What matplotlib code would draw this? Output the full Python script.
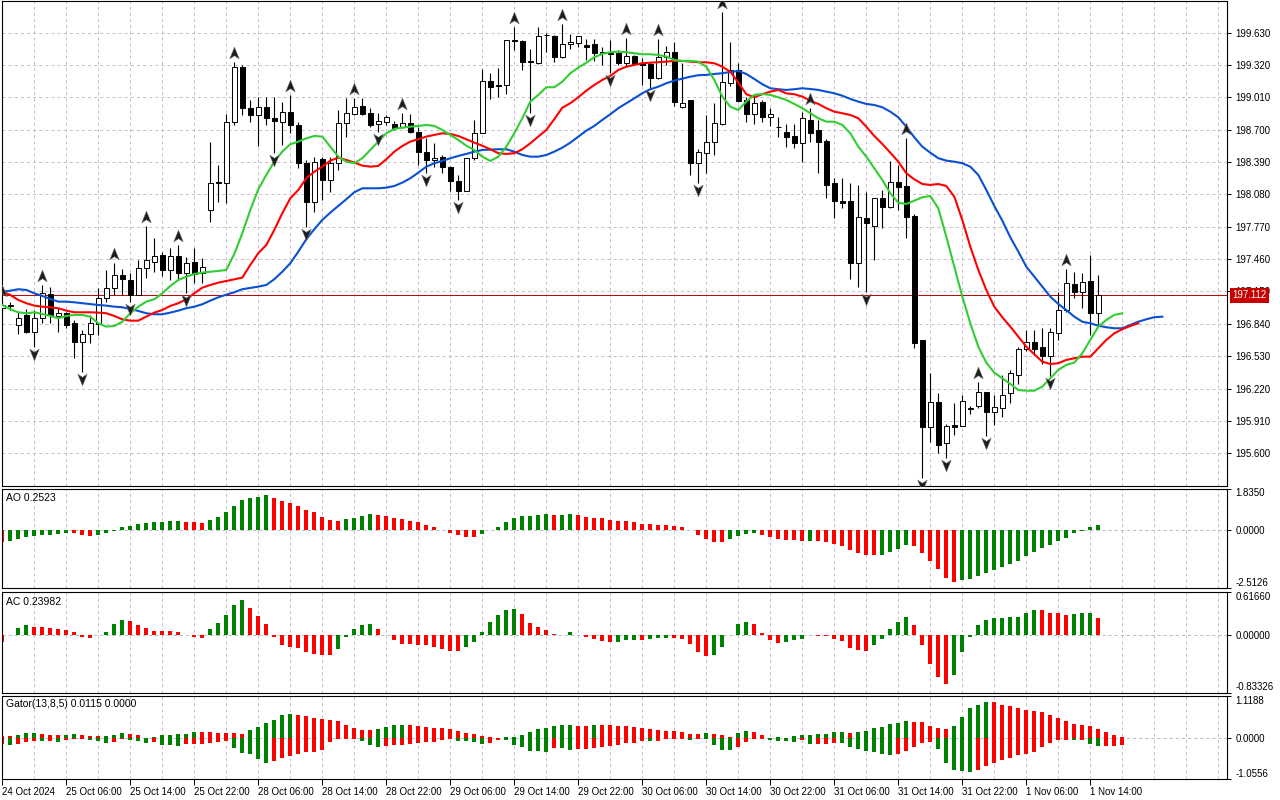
import numpy as np
import matplotlib
matplotlib.use("Agg")
import matplotlib.pyplot as plt
import matplotlib.transforms as mtransforms
from matplotlib.path import Path

plt.rcParams["font.family"] = ["Liberation Sans", "DejaVu Sans"]
plt.rcParams["lines.scale_dashes"] = False

# H1 candles, 24 Oct 22:00 -> 1 Nov 15:00
opens = [196.992, 197.014, 196.829, 196.925, 196.762, 196.896, 197.126, 196.915, 196.944, 196.848,
         196.666, 196.743, 196.838, 197.087, 197.183, 197.308, 197.260, 197.116, 197.375, 197.432,
         197.499, 197.356, 197.490, 197.327, 197.432, 197.327, 197.930, 198.199, 198.189, 198.773,
         199.300, 198.907, 198.840, 198.917, 198.812, 198.773, 198.869, 198.745, 198.381, 198.007,
         198.419, 198.218, 198.381, 198.764, 198.850, 198.927, 198.860, 198.754, 198.773, 198.754,
         198.725, 198.764, 198.678, 198.486, 198.409, 198.438, 198.342, 198.208, 198.112, 198.429,
         198.668, 199.166, 199.128, 199.128, 199.559, 199.549, 199.358, 199.338, 199.607, 199.597,
         199.396, 199.521, 199.530, 199.511, 199.521, 199.444, 199.434, 199.434, 199.338, 199.406,
         199.338, 199.329, 199.195, 199.396, 199.444, 198.917, 198.984, 198.381, 198.476, 198.582,
         198.754, 199.147, 199.271, 198.984, 198.850, 198.965, 198.821, 198.725, 198.678, 198.639,
         198.572, 198.793, 198.697, 198.591, 198.189, 198.017, 198.017, 197.423, 197.854, 197.777,
         198.045, 197.959, 198.199, 198.160, 197.873, 196.685, 195.852, 196.091, 195.698, 195.871,
         195.861, 196.024, 196.053, 196.187, 195.995, 196.034, 196.177, 196.350, 196.599, 196.666,
         196.618, 196.532, 196.752, 196.972, 197.222, 197.145, 197.250, 196.944]
highs = [197.068, 197.052, 196.953, 196.982, 196.972, 197.212, 197.193, 196.992, 196.953, 196.877,
         196.781, 196.925, 197.183, 197.356, 197.423, 197.365, 197.327, 197.451, 197.777, 197.662,
         197.528, 197.566, 197.595, 197.480, 197.566, 197.471, 198.582, 198.361, 198.850, 199.348,
         199.319, 198.984, 199.013, 199.013, 199.013, 198.965, 199.032, 198.773, 198.409, 198.438,
         198.438, 198.438, 198.888, 199.003, 199.003, 199.003, 198.907, 198.860, 198.840, 198.783,
         198.860, 198.850, 198.725, 198.620, 198.572, 198.457, 198.352, 198.266, 198.429, 198.793,
         199.281, 199.243, 199.291, 199.559, 199.683, 199.559, 199.473, 199.683, 199.626, 199.607,
         199.712, 199.616, 199.597, 199.568, 199.568, 199.492, 199.559, 199.463, 199.578, 199.415,
         199.386, 199.348, 199.568, 199.501, 199.540, 199.338, 198.984, 198.515, 198.840, 198.955,
         199.827, 199.540, 199.338, 199.013, 199.013, 198.984, 198.907, 198.821, 198.754, 198.754,
         198.869, 198.907, 198.793, 198.610, 198.237, 198.237, 198.189, 198.170, 198.103, 198.045,
         198.122, 198.400, 198.361, 198.620, 197.892, 196.685, 196.369, 196.178, 195.881, 196.082,
         196.158, 196.053, 196.283, 196.187, 196.158, 196.350, 196.398, 196.618, 196.781, 196.781,
         196.800, 196.800, 197.145, 197.365, 197.337, 197.327, 197.499, 197.308]
lows = [196.953, 196.972, 196.743, 196.752, 196.618, 196.848, 196.848, 196.762, 196.800, 196.513,
        196.379, 196.656, 196.733, 197.049, 197.116, 197.116, 197.049, 197.116, 197.279, 197.337,
        197.298, 197.260, 197.260, 197.135, 197.231, 197.231, 197.815, 198.007, 197.997, 198.745,
        198.840, 198.773, 198.543, 198.745, 198.476, 198.553, 198.668, 198.333, 197.768, 197.911,
        198.026, 198.103, 198.314, 198.630, 198.840, 198.840, 198.725, 198.678, 198.745, 198.697,
        198.716, 198.668, 198.361, 198.285, 198.342, 198.285, 198.112, 198.026, 198.112, 198.409,
        198.668, 198.994, 199.013, 199.042, 199.463, 199.271, 198.860, 199.329, 199.444, 199.348,
        199.386, 199.473, 199.492, 199.367, 199.358, 199.319, 199.243, 199.319, 199.300, 199.319,
        199.128, 199.099, 199.185, 199.319, 198.927, 198.907, 198.266, 198.189, 198.285, 198.457,
        198.745, 199.118, 198.965, 198.773, 198.754, 198.773, 198.735, 198.630, 198.534, 198.524,
        198.390, 198.582, 198.285, 198.045, 197.854, 197.950, 197.269, 197.193, 197.145, 197.451,
        197.758, 197.950, 197.930, 197.662, 196.609, 195.363, 195.708, 195.603, 195.555, 195.775,
        195.861, 195.976, 196.034, 195.766, 195.871, 195.947, 196.082, 196.264, 196.580, 196.541,
        196.455, 196.340, 196.685, 196.953, 197.087, 196.992, 196.733, 196.829]
closes = [197.020, 197.016, 196.896, 196.762, 196.896, 197.135, 196.925, 196.944, 196.829, 196.666,
          196.743, 196.848, 197.087, 197.183, 197.308, 197.270, 197.116, 197.375, 197.451, 197.490,
          197.356, 197.490, 197.327, 197.423, 197.317, 197.384, 198.189, 198.189, 198.773, 199.300,
          198.907, 198.840, 198.917, 198.812, 198.783, 198.869, 198.745, 198.381, 198.007, 198.390,
          198.218, 198.381, 198.764, 198.860, 198.917, 198.850, 198.745, 198.783, 198.821, 198.716,
          198.764, 198.678, 198.486, 198.409, 198.429, 198.342, 198.208, 198.112, 198.429, 198.668,
          199.166, 199.109, 199.118, 199.559, 199.549, 199.348, 199.348, 199.597, 199.602, 199.396,
          199.521, 199.540, 199.597, 199.492, 199.434, 199.434, 199.425, 199.338, 199.406, 199.329,
          199.319, 199.195, 199.396, 199.444, 198.965, 198.955, 198.381, 198.486, 198.582, 198.764,
          199.157, 199.271, 198.975, 198.850, 198.955, 198.821, 198.850, 198.721, 198.630, 198.572,
          198.812, 198.668, 198.582, 198.170, 198.017, 197.997, 197.423, 197.863, 197.806, 198.045,
          197.959, 198.199, 198.151, 197.863, 196.656, 195.852, 196.091, 195.679, 195.861, 195.852,
          196.101, 196.029, 196.187, 195.995, 196.043, 196.158, 196.369, 196.599, 196.666, 196.599,
          196.532, 196.762, 196.972, 197.231, 197.145, 197.241, 196.944, 197.112]

# Alligator lines (already shifted forward: jaw 8, teeth 5, lips 3 bars)
jaw = [197.148, 197.157, 197.171, 197.164, 197.132, 197.107, 197.078, 197.052, 197.052, 197.046,
       197.037, 197.027, 197.020, 197.014, 197.004, 196.998, 196.982, 196.963, 196.941, 196.931,
       196.931, 196.947, 196.966, 196.989, 197.004, 197.027, 197.062, 197.094, 197.119, 197.142,
       197.171, 197.183, 197.196, 197.212, 197.267, 197.339, 197.420, 197.531, 197.650, 197.746,
       197.835, 197.905, 197.969, 198.033, 198.100, 198.138, 198.138, 198.138, 198.144, 198.160,
       198.192, 198.234, 198.288, 198.345, 198.378, 198.400, 198.426, 198.448, 198.467, 198.489,
       198.505, 198.508, 198.512, 198.512, 198.489, 198.457, 198.441, 198.441, 198.457, 198.489,
       198.527, 198.575, 198.633, 198.690, 198.735, 198.793, 198.847, 198.905, 198.952, 199.000,
       199.048, 199.087, 199.111, 199.144, 199.169, 199.188, 199.207, 199.221, 199.224, 199.233,
       199.240, 199.252, 199.262, 199.233, 199.185, 199.135, 199.096, 199.087, 199.080, 199.087,
       199.096, 199.089, 199.080, 199.064, 199.048, 199.025, 198.994, 198.968, 198.946, 198.936,
       198.914, 198.872, 198.818, 198.728, 198.627, 198.537, 198.479, 198.426, 198.403, 198.393,
       198.378, 198.345, 198.266, 198.122, 197.969, 197.828, 197.669, 197.531, 197.387, 197.292,
       197.196, 197.100, 197.030, 196.972, 196.908, 196.860, 196.845, 196.822, 196.807, 196.797,
       196.797, 196.829, 196.860, 196.883, 196.903, 196.908]
teeth = [197.148, 197.116, 197.068, 197.037, 197.014, 197.004, 196.998, 196.989, 196.966, 196.950,
         196.950, 196.950, 196.947, 196.941, 196.915, 196.883, 196.870, 196.870, 196.908, 196.947,
         196.972, 197.011, 197.037, 197.075, 197.132, 197.186, 197.212, 197.234, 197.250, 197.267,
         197.282, 197.404, 197.516, 197.595, 197.739, 197.899, 198.042, 198.122, 198.234, 198.297,
         198.345, 198.403, 198.431, 198.409, 198.384, 198.355, 198.345, 198.352, 198.416, 198.489,
         198.543, 198.585, 198.608, 198.633, 198.649, 198.665, 198.658, 198.639, 198.608, 198.575,
         198.546, 198.512, 198.474, 198.467, 198.474, 198.512, 198.569, 198.633, 198.697, 198.800,
         198.910, 198.953, 199.010, 199.073, 199.128, 199.176, 199.214, 199.271, 199.303, 199.319,
         199.336, 199.341, 199.345, 199.351, 199.358, 199.358, 199.351, 199.345, 199.345, 199.336,
         199.303, 199.255, 199.150, 199.039, 199.010, 199.039, 199.064, 199.080, 199.048, 199.039,
         199.016, 198.977, 198.946, 198.905, 198.872, 198.857, 198.840, 198.809, 198.728, 198.639,
         198.563, 198.479, 198.393, 198.282, 198.224, 198.179, 198.170, 198.179, 198.160, 198.058,
         197.835, 197.579, 197.356, 197.164, 197.004, 196.903, 196.813, 196.717, 196.621, 196.548,
         196.477, 196.455, 196.462, 196.494, 196.510, 196.525, 196.525, 196.606, 196.685, 196.749,
         196.788, 196.819, 196.845]
lips = [197.020, 196.979, 196.950, 196.941, 196.950, 196.934, 196.915, 196.893, 196.915, 196.925,
        196.925, 196.908, 196.845, 196.813, 196.819, 196.860, 196.941, 197.004, 197.052, 197.075,
        197.132, 197.202, 197.260, 197.291, 197.317, 197.330, 197.339, 197.346, 197.356, 197.509,
        197.707, 197.930, 198.129, 198.266, 198.393, 198.489, 198.560, 198.585, 198.617, 198.639,
        198.633, 198.537, 198.441, 198.393, 198.378, 198.426, 198.505, 198.585, 198.665, 198.706,
        198.719, 198.728, 198.735, 198.745, 198.735, 198.697, 198.649, 198.601, 198.546, 198.505,
        198.441, 198.400, 198.441, 198.537, 198.665, 198.809, 198.968, 199.032, 199.106, 199.106,
        199.159, 199.240, 199.294, 199.341, 199.393, 199.425, 199.441, 199.447, 199.441, 199.431,
        199.422, 199.422, 199.415, 199.399, 199.367, 199.358, 199.358, 199.351, 199.303, 199.176,
        199.016, 198.920, 198.888, 198.968, 199.032, 199.042, 199.032, 199.010, 198.984, 198.946,
        198.905, 198.857, 198.809, 198.776, 198.776, 198.745, 198.665, 198.537, 198.441, 198.330,
        198.218, 198.090, 198.000, 197.988, 198.019, 198.052, 198.064, 197.947, 197.675, 197.387,
        197.100, 196.845, 196.621, 196.468, 196.372, 196.318, 196.264, 196.206, 196.199, 196.199,
        196.238, 196.318, 196.398, 196.446, 196.468, 196.558, 196.685, 196.813, 196.877, 196.925,
        196.941]

fractal_up = [0, 5, 14, 18, 22, 29, 36, 44, 50, 64, 70, 78, 82, 90, 101, 113, 122, 133]
fractal_down = [4, 10, 16, 23, 34, 38, 47, 53, 57, 66, 76, 81, 87, 108, 115, 118, 123, 131]

ao = [-0.49, -0.47, -0.37, -0.30, -0.25, -0.21, -0.20, -0.15, -0.12, -0.13,
      -0.21, -0.22, -0.20, -0.10, -0.02, 0.15, 0.21, 0.30, 0.33, 0.35,
      0.39, 0.41, 0.42, 0.37, 0.35, 0.34, 0.47, 0.59, 0.79, 1.08,
      1.35, 1.42, 1.48, 1.53, 1.41, 1.27, 1.19, 1.08, 0.90, 0.79,
      0.59, 0.46, 0.43, 0.52, 0.55, 0.64, 0.73, 0.68, 0.64, 0.55,
      0.50, 0.43, 0.39, 0.24, 0.15, 0.01, -0.12, -0.21, -0.29, -0.30,
      -0.15, 0.03, 0.15, 0.37, 0.55, 0.63, 0.64, 0.68, 0.73, 0.68,
      0.69, 0.73, 0.68, 0.59, 0.56, 0.55, 0.46, 0.42, 0.41, 0.37,
      0.29, 0.28, 0.25, 0.24, 0.19, 0.15, 0.01, -0.21, -0.39, -0.49,
      -0.50, -0.37, -0.25, -0.15, -0.10, -0.21, -0.30, -0.39, -0.42, -0.43,
      -0.46, -0.45, -0.47, -0.50, -0.61, -0.67, -0.84, -0.98, -1.06, -1.07,
      -1.05, -0.95, -0.80, -0.62, -0.68, -0.98, -1.33, -1.69, -2.09, -2.27,
      -2.18, -2.13, -2.01, -1.87, -1.73, -1.60, -1.47, -1.33, -1.11, -0.93,
      -0.76, -0.62, -0.44, -0.31, -0.13, -0.03, 0.16, 0.2523]
ac = [-0.109, -0.005, 0.091, 0.136, 0.118, 0.109, 0.091, 0.081, 0.063, 0.036,
      -0.036, -0.054, -0.009, 0.045, 0.154, 0.208, 0.199, 0.136, 0.091, 0.059,
      0.054, 0.050, 0.045, 0.000, -0.036, -0.041, 0.081, 0.163, 0.281, 0.425,
      0.498, 0.380, 0.272, 0.154, -0.036, -0.145, -0.181, -0.190, -0.253, -0.272,
      -0.290, -0.299, -0.199, -0.036, 0.081, 0.136, 0.154, 0.081, -0.009, -0.081,
      -0.127, -0.131, -0.145, -0.154, -0.172, -0.208, -0.235, -0.240, -0.181, -0.100,
      0.036, 0.181, 0.281, 0.353, 0.371, 0.299, 0.163, 0.109, 0.063, 0.005,
      0.002, 0.036, -0.003, -0.036, -0.063, -0.091, -0.109, -0.104, -0.081, -0.072,
      -0.081, -0.063, -0.045, -0.041, -0.054, -0.059, -0.127, -0.253, -0.308, -0.299,
      -0.181, -0.005, 0.154, 0.181, 0.154, 0.018, -0.081, -0.118, -0.109, -0.081,
      -0.063, -0.009, -0.014, -0.018, -0.063, -0.091, -0.190, -0.226, -0.231, -0.145,
      -0.068, 0.081, 0.190, 0.262, 0.145, -0.154, -0.416, -0.606, -0.706, -0.579,
      -0.253, -0.036, 0.136, 0.217, 0.235, 0.244, 0.249, 0.262, 0.317, 0.362,
      0.357, 0.317, 0.308, 0.290, 0.299, 0.308, 0.312, 0.23982]
gator_up = [0.070, 0.053, 0.096, 0.132, 0.140, 0.114, 0.088, 0.087, 0.092, 0.123,
            0.088, 0.061, 0.060, 0.066, 0.096, 0.140, 0.114, 0.088, 0.018, 0.044,
            0.088, 0.096, 0.105, 0.110, 0.175, 0.167, 0.162, 0.140, 0.136, 0.132,
            0.127, 0.210, 0.298, 0.395, 0.491, 0.605, 0.631, 0.605, 0.579, 0.535,
            0.509, 0.491, 0.447, 0.351, 0.263, 0.219, 0.215, 0.237, 0.307, 0.351,
            0.355, 0.346, 0.324, 0.307, 0.281, 0.263, 0.237, 0.193, 0.149, 0.123,
            0.061, 0.044, 0.018, 0.035, 0.039, 0.096, 0.175, 0.237, 0.281, 0.324,
            0.351, 0.355, 0.333, 0.329, 0.351, 0.346, 0.342, 0.324, 0.320, 0.289,
            0.263, 0.237, 0.210, 0.193, 0.189, 0.167, 0.123, 0.118, 0.140, 0.114,
            0.079, 0.044, 0.132, 0.184, 0.180, 0.079, 0.009, 0.026, 0.018, 0.061,
            0.079, 0.083, 0.114, 0.123, 0.158, 0.162, 0.132, 0.158, 0.193, 0.263,
            0.289, 0.368, 0.395, 0.465, 0.439, 0.417, 0.324, 0.263, 0.237, 0.324,
            0.570, 0.781, 0.877, 0.943, 0.938, 0.877, 0.833, 0.781, 0.754, 0.728,
            0.693, 0.614, 0.544, 0.465, 0.386, 0.342, 0.333, 0.254, 0.158, 0.088,
            0.026, 0.0115, 0.005]
gator_down = [-0.132, -0.175, -0.140, -0.088, -0.070, -0.075, -0.070, -0.088, -0.044, -0.018,
              -0.009, -0.044, -0.070, -0.114, -0.088, -0.026, -0.044, -0.070, -0.114, -0.088,
              -0.158, -0.175, -0.202, -0.140, -0.136, -0.132, -0.114, -0.088, -0.079, -0.246,
              -0.377, -0.403, -0.544, -0.631, -0.588, -0.500, -0.456, -0.403, -0.351, -0.345,
              -0.289, -0.088, -0.004, -0.003, -0.003, -0.070, -0.175, -0.219, -0.202, -0.175,
              -0.158, -0.140, -0.114, -0.088, -0.083, -0.044, -0.026, -0.070, -0.075, -0.096,
              -0.140, -0.114, -0.044, -0.053, -0.175, -0.219, -0.333, -0.338, -0.342, -0.246,
              -0.254, -0.307, -0.281, -0.263, -0.246, -0.228, -0.202, -0.167, -0.114, -0.110,
              -0.070, -0.075, -0.066, -0.004, -0.003, -0.003, -0.044, -0.009, -0.026, -0.175,
              -0.307, -0.311, -0.219, -0.088, -0.004, -0.003, -0.044, -0.070, -0.075, -0.088,
              -0.044, -0.140, -0.136, -0.132, -0.114, -0.123, -0.210, -0.281, -0.316, -0.360,
              -0.412, -0.439, -0.412, -0.316, -0.210, -0.123, -0.105, -0.281, -0.640, -0.824,
              -0.859, -0.877, -0.824, -0.710, -0.649, -0.570, -0.509, -0.430, -0.417, -0.342,
              -0.228, -0.123, -0.035, -0.031, -0.053, -0.035, -0.149, -0.202, -0.197, -0.193,
              -0.175]

price_ticks = [199.630, 199.320, 199.010, 198.700, 198.390, 198.080, 197.770,
               197.460, 197.150, 196.840, 196.530, 196.220, 195.910, 195.600]
time_labels = ["24 Oct 2024", "25 Oct 06:00", "25 Oct 14:00", "25 Oct 22:00", "28 Oct 06:00",
               "28 Oct 14:00", "28 Oct 22:00", "29 Oct 06:00", "29 Oct 14:00", "29 Oct 22:00",
               "30 Oct 06:00", "30 Oct 14:00", "30 Oct 22:00", "31 Oct 06:00", "31 Oct 14:00",
               "31 Oct 22:00", "1 Nov 06:00", "1 Nov 14:00"]
ao_scale = [-2.5126, 0.0, 1.8350]
ac_scale = [-0.83326, 0.0, 0.61660]
gator_scale = [-1.0556, 0.0, 1.1188]

GREEN, RED = "#008000", "#ff0000"
GRID = dict(color="#c4b0c4", lw=0.6, ls=(0, (2.2, 2.2)), zorder=0)
ZERO = dict(color="#9fb4b4", lw=0.6, ls=(0, (2.2, 2.2)), zorder=0)
FS = 7

W, H = 1280, 800
fig = plt.figure(figsize=(W / 100, H / 100), dpi=100)


def pane(top, bottom, left=2, right=1227):
    return fig.add_axes([left / W, 1 - bottom / H, (right - left) / W, (bottom - top) / H])


main = pane(1, 485.5)
ao_ax = pane(488.5, 588)
ac_ax = pane(592, 692.5)
gt_ax = pane(695.5, 779)
n_bars = len(closes)
xlim = ((2 - 2.3) / 8, (1227 - 2.3) / 8)

for ax in (main, ao_ax, ac_ax, gt_ax):
    ax.set_xlim(*xlim)
    for s in ax.spines.values():
        s.set_linewidth(0.8)
    for gx in np.arange(0, xlim[1], 4):
        ax.axvline(gx, **GRID)
    ax.yaxis.tick_right()
    ax.tick_params(axis="y", length=3, width=0.7, pad=3, labelsize=FS)
    ax.set_xticks([])

# ---- price pane ----
x = np.arange(n_bars)
o, h, l, c = (np.array(v) for v in (opens, highs, lows, closes))
main.set_ylim(195.291, 199.932)
for p in price_ticks:
    main.axhline(p, **GRID)
main.set_yticks(price_ticks)
main.set_yticklabels([f"{p:.3f}" for p in price_ticks])

main.vlines(x, l, h, color="black", lw=0.8, zorder=3)
bull = c >= o
main.bar(x, np.maximum(np.abs(c - o), 0.002), bottom=np.minimum(o, c), width=0.62,
         color=np.where(bull, "white", "black"), edgecolor="black", lw=0.7, zorder=3)

main.plot(np.arange(len(jaw)), jaw, color="#0a50d2", lw=1.5, zorder=4)
main.plot(np.arange(len(teeth)), teeth, color="#ff0000", lw=1.5, zorder=4)
main.plot(np.arange(len(lips)), lips, color="#32cd32", lw=1.5, zorder=4)

arrow = Path([(0, 1), (0.75, -0.85), (0, -0.35), (-0.75, -0.85), (0, 1)],
             [Path.MOVETO, Path.LINETO, Path.LINETO, Path.LINETO, Path.CLOSEPOLY])
arrow_dn = Path(arrow.vertices * [1, -1], arrow.codes)
main.plot(fractal_up, h[fractal_up] + 0.088, ls="none", marker=arrow, ms=9,
          mfc="#1c1c1c", mec="#6a6a6a", mew=0.4, zorder=5)
main.plot(fractal_down, l[fractal_down] - 0.07, ls="none", marker=arrow_dn, ms=9,
          mfc="#1c1c1c", mec="#6a6a6a", mew=0.4, zorder=5)

main.axhline(c[-1], color="#c00000", lw=0.7, zorder=2)
trans = mtransforms.blended_transform_factory(main.transAxes, main.transData)
main.text(1.0, c[-1], f"{c[-1]:.3f}", transform=mtransforms.offset_copy(trans, fig=fig, x=5, units="dots"),
          ha="left", va="center", fontsize=FS, color="white", zorder=10, clip_on=False,
          bbox=dict(boxstyle="square,pad=0.25", fc="#c80000", ec="none"))


# ---- oscillator panes ----
def rising(v):
    return np.r_[False, np.diff(np.asarray(v)) > 0]


def osc_axis(ax, scale, fmt, title):
    ax.set_ylim(scale[0], scale[-1])
    ax.axhline(0, **ZERO)
    ax.set_yticks(scale)
    labels = ax.set_yticklabels([fmt.format(v) for v in scale])
    labels[0].set_verticalalignment("bottom")
    labels[-1].set_verticalalignment("top")
    ax.text(4 / 1225, 0.955, title, transform=ax.transAxes, ha="left", va="top", fontsize=FS + 0.5)


osc_axis(ao_ax, ao_scale, "{:.4f}", "AO 0.2523")
ao_ax.bar(np.arange(len(ao)), ao, width=0.5, color=np.where(rising(ao), GREEN, RED), zorder=2)

osc_axis(ac_ax, ac_scale, "{:.5f}", "AC 0.23982")
ac_ax.bar(np.arange(len(ac)), ac, width=0.5, color=np.where(rising(ac), GREEN, RED), zorder=2)

osc_axis(gt_ax, gator_scale, "{:.4f}", "Gator(13,8,5) 0.0115 0.0000")
gt_ax.bar(np.arange(len(gator_up)), gator_up, width=0.5,
          color=np.where(rising(gator_up), GREEN, RED), zorder=2)
gt_ax.bar(np.arange(len(gator_down)), gator_down, width=0.5,
          color=np.where(rising(np.abs(gator_down)), GREEN, RED), zorder=2)

gt_ax.set_xticks(np.arange(0, n_bars, 8))
gt_ax.set_xticklabels(time_labels, ha="left")
gt_ax.tick_params(axis="x", length=4, width=0.7, pad=1.5, labelsize=FS)

fig.savefig("out.png", dpi=100)
